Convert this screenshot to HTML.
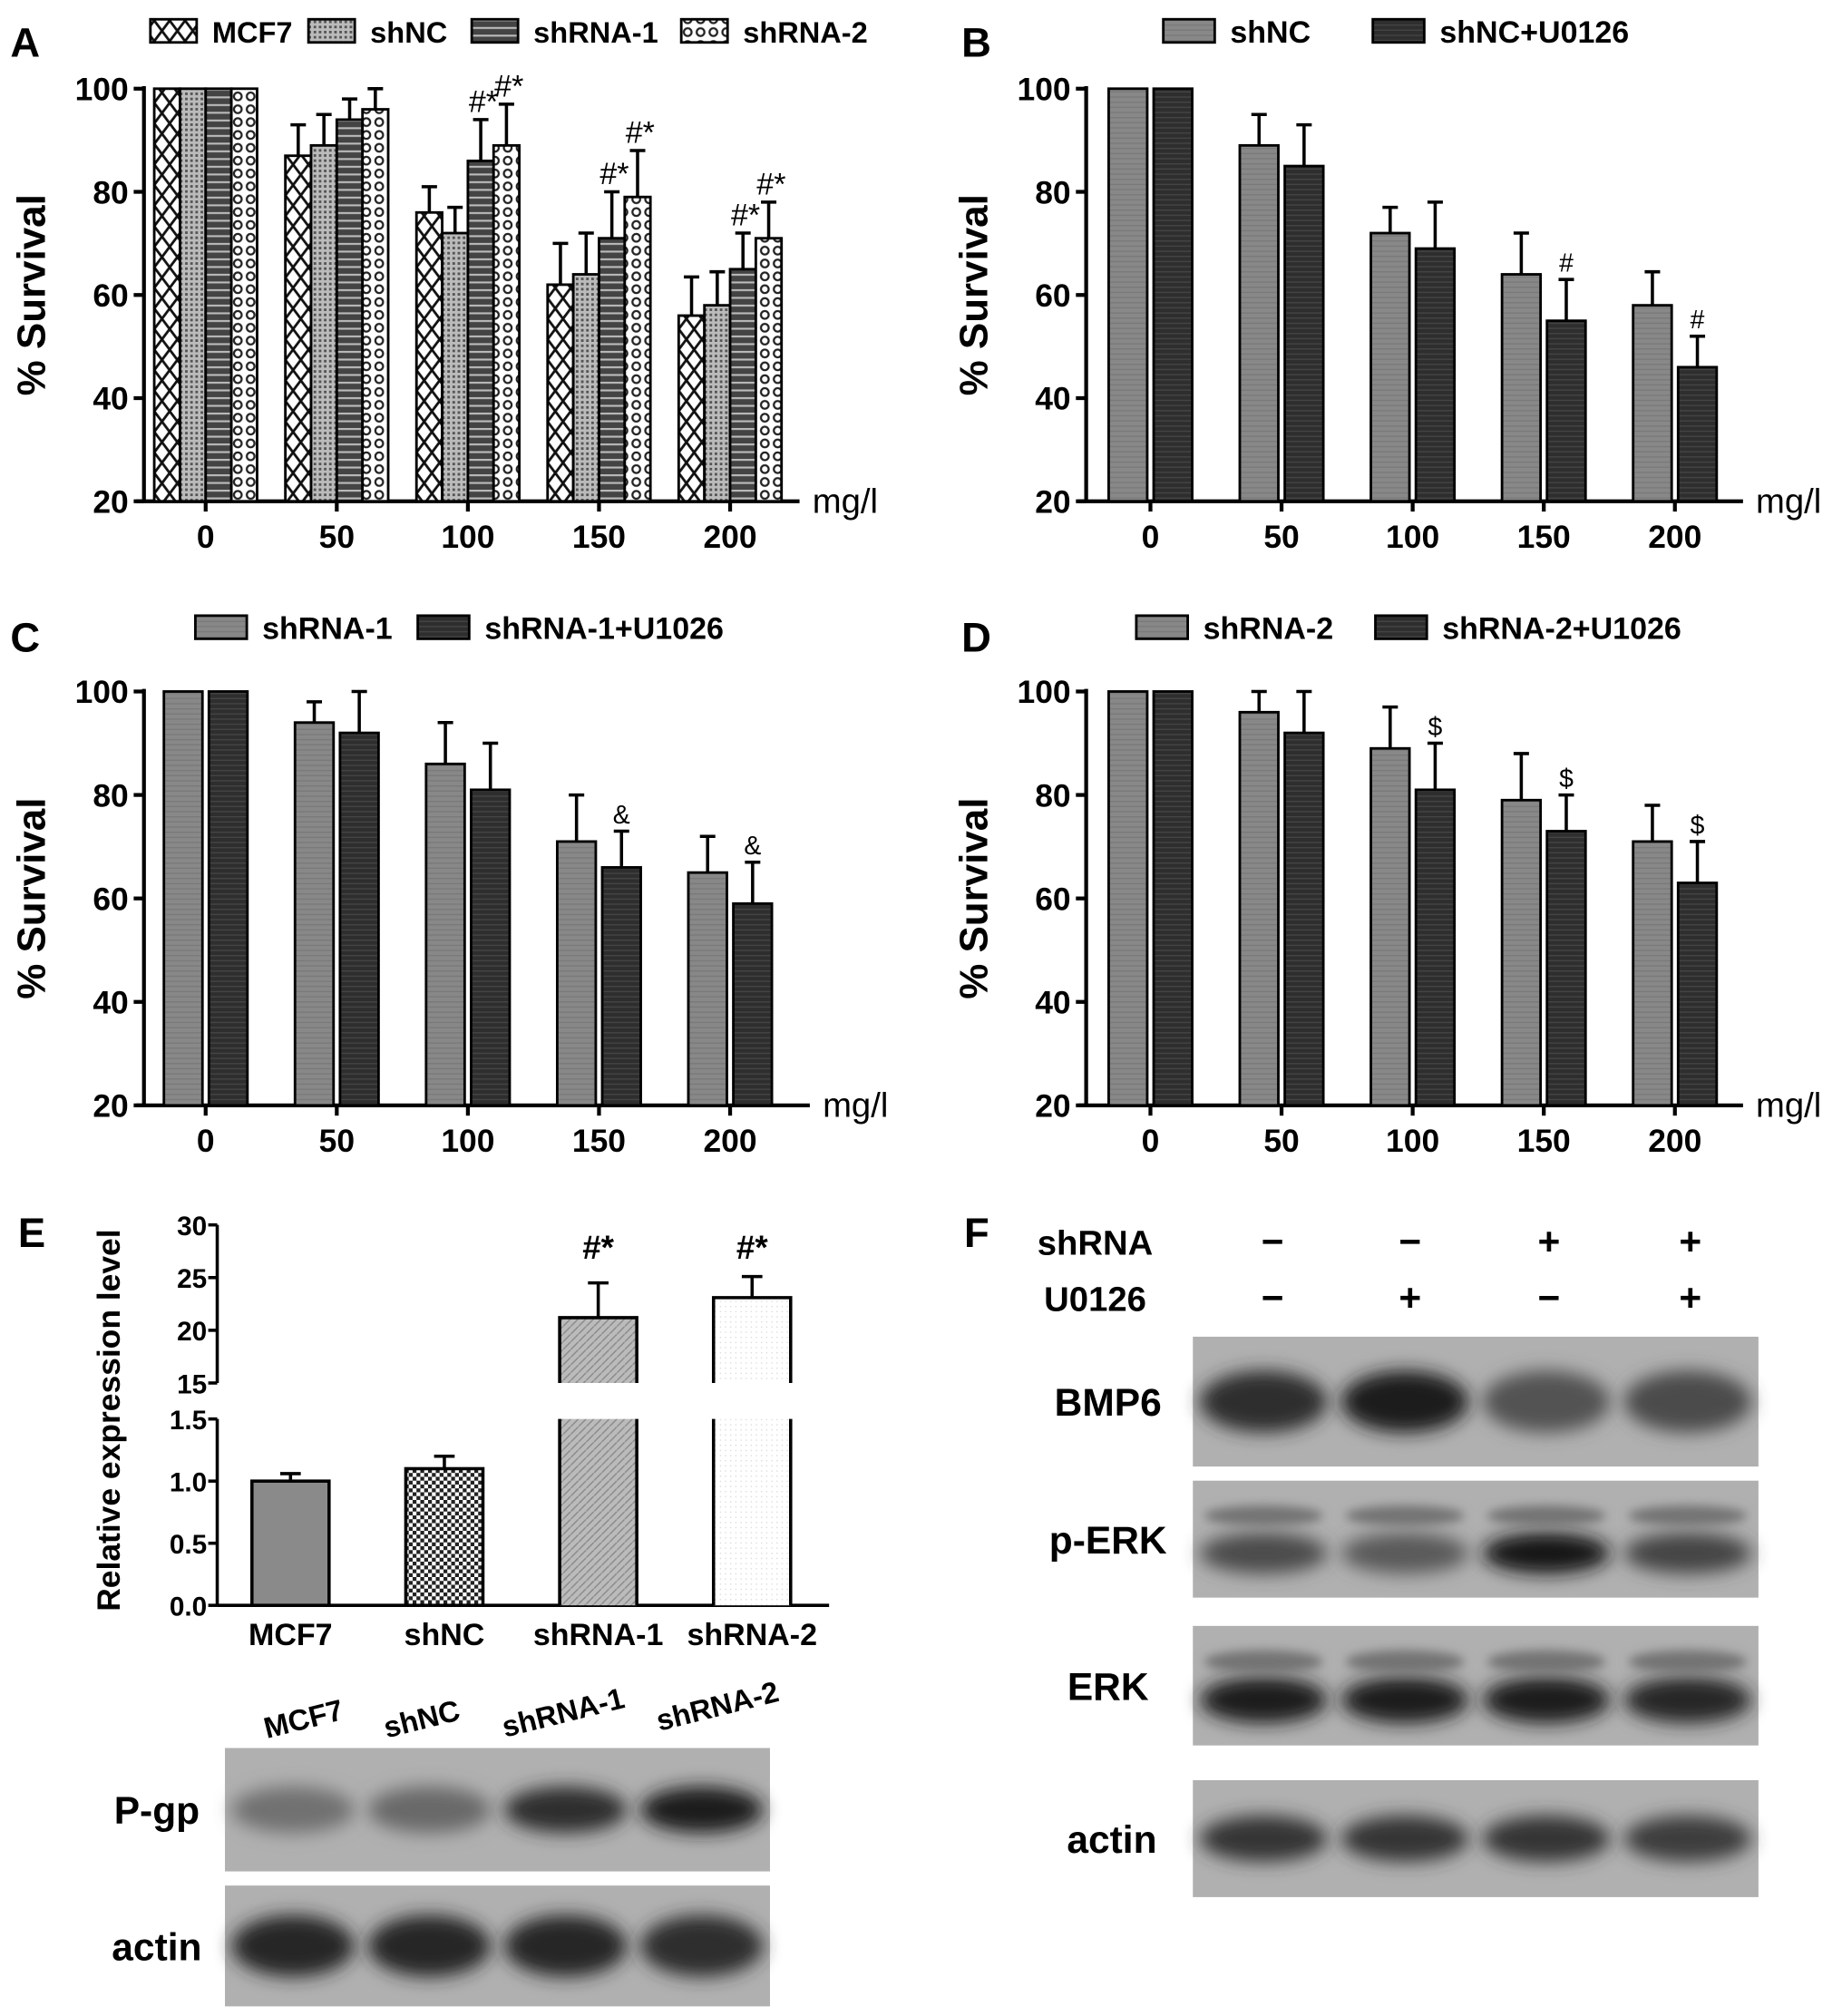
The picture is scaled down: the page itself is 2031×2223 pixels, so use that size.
<!DOCTYPE html>
<html><head><meta charset="utf-8">
<style>
html,body{margin:0;padding:0;background:#fff;}
svg{display:block;font-family:"Liberation Sans",Arial,sans-serif;font-weight:bold;}
</style></head>
<body>
<svg id="fig" width="2031" height="2223" viewBox="0 0 1433 1568.5" preserveAspectRatio="none" xmlns="http://www.w3.org/2000/svg">
<defs>
 <pattern id="pX" width="12" height="16" patternUnits="userSpaceOnUse"><rect width="12" height="16" fill="#fff"/><path d="M0 0L12 16M12 0L0 16" stroke="#111" stroke-width="2"/></pattern>
 <pattern id="pDot" width="4" height="4" patternUnits="userSpaceOnUse"><rect width="4" height="4" fill="#bbb"/><rect width="2" height="2" fill="#555"/></pattern>
 <pattern id="pH" width="6" height="6" patternUnits="userSpaceOnUse"><rect width="6" height="6" fill="#444"/><rect y="3" width="6" height="1.5" fill="#bbb"/></pattern>
 <pattern id="pChk" width="10" height="10" patternUnits="userSpaceOnUse"><rect width="10" height="10" fill="#fff"/><circle cx="5" cy="5" r="3" fill="none" stroke="#222" stroke-width="1.6"/></pattern>
 <pattern id="pGray" width="4" height="4" patternUnits="userSpaceOnUse"><rect width="4" height="4" fill="#888"/><rect y="3" width="4" height="1" fill="#7a7a7a"/></pattern>
 <pattern id="pDark" width="4" height="4" patternUnits="userSpaceOnUse"><rect width="4" height="4" fill="#2e2e2e"/><rect y="3" width="4" height="1" fill="#444"/></pattern>
 <pattern id="pDiag" width="6" height="6" patternUnits="userSpaceOnUse"><rect width="6" height="6" fill="#bbb"/><path d="M0 6L6 0" stroke="#888" stroke-width="1"/></pattern>
 <pattern id="pCh2" width="6" height="6" patternUnits="userSpaceOnUse"><rect width="6" height="6" fill="#fff"/><rect width="3" height="3" fill="#222"/><rect x="3" y="3" width="3" height="3" fill="#222"/></pattern>
 <pattern id="pMcf" width="4" height="4" patternUnits="userSpaceOnUse"><rect width="4" height="4" fill="#8a8a8a"/></pattern>
 <pattern id="pLight" width="4" height="4" patternUnits="userSpaceOnUse"><rect width="4" height="4" fill="#fff"/><rect width="1" height="1" fill="#ddd"/></pattern>
 <filter id="blur6" x="-20%" y="-50%" width="140%" height="200%"><feGaussianBlur stdDeviation="7"/></filter>
 <filter id="blur3" x="-20%" y="-50%" width="140%" height="200%"><feGaussianBlur stdDeviation="4"/></filter>
</defs>
<g id="root"></g>
</svg>
<script>
// ---------- data ----------
const doseLabels=['0','50','100','150','200'];
const yTicksSurv=[20,40,60,80,100];
// Panel A
const aMCF7=[100,87,76,62,56];
const aMCF7Err=[0,6,5,8,7.5];
const aShNC=[100,89,72,64,58];
const aShNCErr=[0,6,5,8,6.5];
const aSh1=[100,94,86,71,65];
const aSh1Err=[0,4,8,9,7];
const aSh2=[100,96,89,79,71];
const aSh2Err=[0,4,8,9,7];
const aSh1Marks=['','','#*','#*','#*'];
const aSh2Marks=['','','#*','#*','#*'];
// Panel B
const bShNC=[100,89,72,64,58];
const bShNCErr=[0,6,5,8,6.5];
const bU=[100,85,69,55,46];
const bUErr=[0,8,9,8,6];
const bUMarks=['','','','#','#'];
// Panel C
const cSh1=[100,94,86,71,65];
const cSh1Err=[0,4,8,9,7];
const cU=[100,92,81,66,59];
const cUErr=[0,8,9,7,8];
const cUMarks=['','','','&','&'];
// Panel D
const dSh2=[100,96,89,79,71];
const dSh2Err=[0,4,8,9,7];
const dU=[100,92,81,73,63];
const dUErr=[0,8,9,7,8];
const dUMarks=['','','$','$','$'];
// Panel E
const eCats=['MCF7','shNC','shRNA-1','shRNA-2'];
const eVals=[1.0,1.1,21.2,23.1];
const eErr=[0.06,0.1,3.3,2.0];
const eMarks=['','','#*','#*'];
const eTopTicks=[15,20,25,30];
const eBotTicks=[0.0,0.5,1.0,1.5];
// Blots (band intensities 0..1)
const pgpBand=[0.35,0.4,0.8,0.9];
const actinEBand=[0.85,0.85,0.85,0.8];
const fShRNA=['−','−','+','+'];
const fU0126=['−','+','−','+'];
const bmp6Band=[0.8,0.9,0.55,0.6];
const perkBand=[0.6,0.5,0.95,0.65];
const erkBand=[0.9,0.9,0.9,0.85];
const actinFBand=[0.75,0.75,0.75,0.7];

// ---------- helpers ----------
const NS='http://www.w3.org/2000/svg';
const root=document.getElementById('root');
function el(tag,attrs,parent,text){const e=document.createElementNS(NS,tag);for(const k in attrs)e.setAttribute(k,attrs[k]);if(text!==undefined)e.textContent=text;(parent||root).appendChild(e);return e;}

function survChart(p){
  const g=el('g',{});
  
  
  const y=v=>p.y20-(v-20)/80*(p.y20-p.y100);
  const x=i=>p.x0+i*p.step;
  const L=el('text',{x:p.letterX,y:p.letterY,'font-size':32},g,p.letter);
  
  
  const ax=el('line',{x1:p.ax,y1:y(100)-2,x2:p.ax,y2:y(20),stroke:'#000','stroke-width':3},g);
  
  
  yTicksSurv.forEach(t=>{
    el('line',{x1:p.ax-8,y1:y(t),x2:p.ax,y2:y(t),stroke:'#000','stroke-width':3},g);
    const tl=el('text',{x:p.ax-12,y:y(t)+9,'font-size':25,'text-anchor':'end'},g,t);
    
    
  });
  const xa=el('line',{x1:p.ax-6,y1:y(20),x2:p.xEnd,y2:y(20),stroke:'#000','stroke-width':3},g);
  
  
  const u=el('text',{x:p.xEnd+10,y:y(20)+9,'font-size':27,'font-weight':'normal'},g,'mg/l');
  
  
  doseLabels.forEach((d,i)=>{
    el('line',{x1:x(i),y1:y(20),x2:x(i),y2:y(20)+8,stroke:'#000','stroke-width':3},g);
    const t=el('text',{x:x(i),y:y(20)+36,'font-size':25,'text-anchor':'middle'},g,d);
    
    
  });
  const yt=el('text',{x:0,y:0,'font-size':31,'text-anchor':'middle',transform:`translate(${p.ax-77},${(y(20)+y(100))/2}) rotate(-90)`},g,'% Survival');
  
  
  const n=p.series.length;
  p.series.forEach((s,j)=>{
    s.vals.forEach((v,i)=>{
      const bx=x(i)-(n*p.bw+(n-1)*p.gap)/2+j*(p.bw+p.gap);
      const r=el('rect',{x:bx,y:y(v),width:p.bw,height:y(20)-y(v),fill:s.fill,stroke:'#000','stroke-width':2},g);
      
      
      const e=s.err[i];
      if(e>0){
        const cx=bx+p.bw/2;
        el('line',{x1:cx,y1:y(v),x2:cx,y2:y(v+e),stroke:'#000','stroke-width':2.5},g);
        el('line',{x1:cx-6,y1:y(v+e),x2:cx+6,y2:y(v+e),stroke:'#000','stroke-width':2.5},g);
      }
      if(s.marks&&s.marks[i]){
        const m=el('text',{x:bx+p.bw/2+(p.markDx||0),y:y(v+e)-6,'font-size':p.markSize||22,'text-anchor':'middle','font-weight':'normal'},g,s.marks[i]);
        
        
      }
    });
  });
  p.series.forEach((s,j)=>{
    const lx=p.legend[j];
    const sw=el('rect',{x:lx,y:p.legY-9,width:p.legW,height:18,fill:s.fill,stroke:'#000','stroke-width':2},g);
    
    
    const lt=el('text',{x:lx+p.legW+12,y:p.legY+9,'font-size':p.legFont||24},g,s.label);
    
    
  });
}

survChart({name:'chart-a',letter:'A',letterX:8,letterY:44,ax:112,y100:69,y20:390,x0:160,step:102,xEnd:622,bw:20,gap:0,
  legY:24,legW:36,legend:[117,240,367,530],legFont:23,markDx:2,markSize:24,
  series:[
   {key:'mcf7',label:'MCF7',vals:aMCF7,err:aMCF7Err,fill:'url(#pX)'},
   {key:'shnc',label:'shNC',vals:aShNC,err:aShNCErr,fill:'url(#pDot)'},
   {key:'shrna1',label:'shRNA-1',vals:aSh1,err:aSh1Err,fill:'url(#pH)',marks:aSh1Marks},
   {key:'shrna2',label:'shRNA-2',vals:aSh2,err:aSh2Err,fill:'url(#pChk)',marks:aSh2Marks}]});
survChart({name:'chart-b',letter:'B',letterX:748,letterY:44,ax:845,y100:69,y20:390,x0:895,step:102,xEnd:1356,bw:30,gap:5,
  legY:24,legW:40,legend:[905,1068],markSize:20,
  series:[
   {key:'shnc',label:'shNC',vals:bShNC,err:bShNCErr,fill:'url(#pGray)'},
   {key:'shnc-u0126',label:'shNC+U0126',vals:bU,err:bUErr,fill:'url(#pDark)',marks:bUMarks}]});
survChart({name:'chart-c',letter:'C',letterX:8,letterY:507,ax:112,y100:538,y20:860,x0:160,step:102,xEnd:630,bw:30,gap:5,
  legY:488,legW:40,legend:[152,325],markSize:20,
  series:[
   {key:'shrna1',label:'shRNA-1',vals:cSh1,err:cSh1Err,fill:'url(#pGray)'},
   {key:'shrna1-u1026',label:'shRNA-1+U1026',vals:cU,err:cUErr,fill:'url(#pDark)',marks:cUMarks}]});
survChart({name:'chart-d',letter:'D',letterX:748,letterY:507,ax:845,y100:538,y20:860,x0:895,step:102,xEnd:1356,bw:30,gap:5,
  legY:488,legW:40,legend:[884,1070],markSize:20,
  series:[
   {key:'shrna2',label:'shRNA-2',vals:dSh2,err:dSh2Err,fill:'url(#pGray)'},
   {key:'shrna2-u1026',label:'shRNA-2+U1026',vals:dU,err:dUErr,fill:'url(#pDark)',marks:dUMarks}]});

// ---------- Panel E ----------
(function(){
  const g=el('g',{});
  
  
  const ax=169, xEnd=645;
  const yTop=v=>1076-(v-15)/15*(1076-953);
  const yBot=v=>1249-v/1.5*(1249-1104);
  const cx=i=>226+i*119.7, bw=60;
  const fills=['url(#pMcf)','url(#pCh2)','url(#pDiag)','url(#pLight)'];
  const L=el('text',{x:14,y:970,'font-size':32},g,'E');
  
  
  const a1=el('line',{x1:ax,y1:953,x2:ax,y2:1076,stroke:'#000','stroke-width':2.5},g);
  
  
  const a2=el('line',{x1:ax,y1:1104,x2:ax,y2:1249,stroke:'#000','stroke-width':2.5},g);
  
  
  eTopTicks.forEach(t=>{el('line',{x1:ax-7,y1:yTop(t),x2:ax,y2:yTop(t),stroke:'#000','stroke-width':2.5},g);
    const tl=el('text',{x:ax-8,y:yTop(t)+8,'font-size':21,'text-anchor':'end'},g,t);
    
    });
  eBotTicks.forEach(t=>{el('line',{x1:ax-7,y1:yBot(t),x2:ax,y2:yBot(t),stroke:'#000','stroke-width':2.5},g);
    const tl=el('text',{x:ax-8,y:yBot(t)+8,'font-size':21,'text-anchor':'end'},g,t.toFixed(1));
    
    });
  const xa=el('line',{x1:ax,y1:1249,x2:xEnd,y2:1249,stroke:'#000','stroke-width':2.5},g);
  
  
  const yt=el('text',{x:0,y:0,'font-size':25,'text-anchor':'middle',transform:'translate(93,1105) rotate(-90)'},g,'Relative expression level');
  
  
  eVals.forEach((v,i)=>{
    const bx=cx(i)-bw/2;
    if(v>1.5){
      const lb=el('rect',{x:bx,y:yBot(1.5),width:bw,height:1249-yBot(1.5),fill:fills[i]},g);
      
      
      const r=el('rect',{x:bx,y:yTop(v),width:bw,height:1076-yTop(v),fill:fills[i]},g);
      
      
      el('path',{d:`M${bx} 1076V${yTop(v)}H${bx+bw}V1076M${bx} 1249V${yBot(1.5)}M${bx+bw} 1249V${yBot(1.5)}`,fill:'none',stroke:'#000','stroke-width':2.5},g);
      const e=eErr[i];
      el('line',{x1:cx(i),y1:yTop(v),x2:cx(i),y2:yTop(v+e),stroke:'#000','stroke-width':2.5},g);
      el('line',{x1:cx(i)-8,y1:yTop(v+e),x2:cx(i)+8,y2:yTop(v+e),stroke:'#000','stroke-width':2.5},g);
      const m=el('text',{x:cx(i),y:yTop(28)+10,'font-size':26,'text-anchor':'middle'},g,eMarks[i]);
      
      
    } else {
      const r=el('rect',{x:bx,y:yBot(v),width:bw,height:1249-yBot(v),fill:fills[i],stroke:'#000','stroke-width':2.5},g);
      
      
      const e=eErr[i];
      el('line',{x1:cx(i),y1:yBot(v),x2:cx(i),y2:yBot(v+e),stroke:'#000','stroke-width':2.5},g);
      el('line',{x1:cx(i)-8,y1:yBot(v+e),x2:cx(i)+8,y2:yBot(v+e),stroke:'#000','stroke-width':2.5},g);
    }
    const t=el('text',{x:cx(i),y:1280,'font-size':24,'text-anchor':'middle'},g,eCats[i]);
    
    
  });
})();

// ---------- blots ----------
function blot(name,label,x,y,w,h,bands,labelX,bandH,doubleBand){
  const g=el('g',{});
  
  
  el('rect',{x:x,y:y,width:w,height:h,fill:'#b0b0b0'},g);
  const lane=w/4;
  bands.forEach((b,i)=>{
    const c=Math.round(165-150*b);
    const col=`rgb(${c},${c},${c})`;
    const bb=el('ellipse',{cx:x+lane*(i+0.5),cy:y+h*(doubleBand?0.62:0.5),rx:lane*0.45,ry:bandH,fill:col,filter:'url(#blur6)'},g);
    
    
    if(doubleBand){el('ellipse',{cx:x+lane*(i+0.5),cy:y+h*0.3,rx:lane*0.42,ry:bandH*0.5,fill:'rgb(115,115,115)',filter:'url(#blur3)'},g);}
  });
  const t=el('text',{x:labelX,y:y+h/2+11,'font-size':30,'text-anchor':'middle'},g,label);
  
  
}
[['MCF7',238,1345],['shNC',330,1345],['shRNA-1',440,1340],['shRNA-2',560,1335]].forEach(([t,x,y])=>{
  const l=el('text',{x:x,y:y,'font-size':23,'text-anchor':'middle',transform:`rotate(-14 ${x} ${y})`},root,t);
  
  
});
blot('blot-pgp','P-gp',175,1360,424,96,pgpBand,122,18,false);
blot('blot-actin-e','actin',175,1467,424,94,actinEBand,122,24,false);
(function(){
  const L=el('text',{x:750,y:970,'font-size':32},root,'F');
  
  
  const r1=el('text',{x:852,y:976,'font-size':27,'text-anchor':'middle'},root,'shRNA');
  
  
  const r2=el('text',{x:852,y:1020,'font-size':27,'text-anchor':'middle'},root,'U0126');
  
  
  const xs=[990,1097,1205,1315];
  fShRNA.forEach((s,i)=>{const t=el('text',{x:xs[i],y:976,'font-size':30,'text-anchor':'middle'},root,s);
    
    });
  fU0126.forEach((s,i)=>{const t=el('text',{x:xs[i],y:1020,'font-size':30,'text-anchor':'middle'},root,s);
    
    });
})();
blot('blot-bmp6','BMP6',928,1040,440,101,bmp6Band,862,24,false);
blot('blot-perk','p-ERK',928,1152,440,91,perkBand,862,16,true);
blot('blot-erk','ERK',928,1265,440,93,erkBand,862,18,true);
blot('blot-actin-f','actin',928,1385,440,91,actinFBand,865,18,false);
</script>
</body></html>
